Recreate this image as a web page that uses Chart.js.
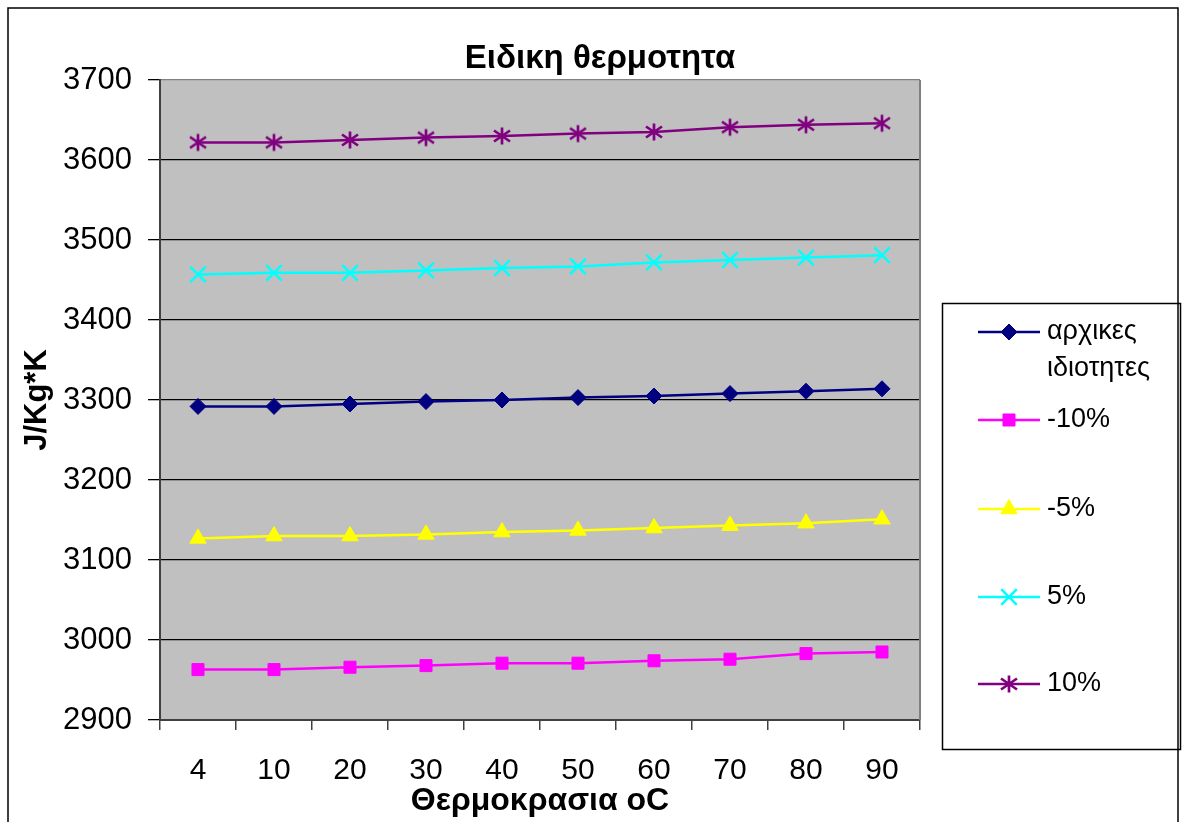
<!DOCTYPE html>
<html>
<head>
<meta charset="utf-8">
<title>Ειδικη θερμοτητα</title>
<script src="https://cdn.jsdelivr.net/npm/chart.js@4/dist/chart.umd.min.js"></script>
<style>
  html, body { margin: 0; padding: 0; background: #ffffff; }
  #wrap { width: 1182px; height: 822px; position: relative; }
</style>
</head>
<body>
<div id="wrap"><canvas id="c" width="1182" height="822"></canvas></div>
<script>
// Temperatures (oC) on the category axis
const categories = ['4', '10', '20', '30', '40', '50', '60', '70', '80', '90'];

// Specific heat, J/Kg*K, for each property set
const baseValues   = [3292, 3292, 3295, 3298, 3300, 3303, 3305, 3308, 3311, 3314];
const minus10      = [2963, 2963, 2966, 2968, 2971, 2971, 2974, 2976, 2983, 2985];
const minus5       = [3127, 3130, 3130, 3132, 3135, 3137, 3140, 3143, 3146, 3151];
const plus5        = [3457, 3459, 3459, 3462, 3465, 3467, 3472, 3475, 3478, 3481];
const plus10       = [3622, 3622, 3625, 3628, 3630, 3633, 3635, 3641, 3644, 3646];

// Series names (the first one is written on two lines in the legend)
const seriesNames = [['αρχικες', 'ιδιοτητες'], ['-10%'], ['-5%'], ['5%'], ['10%']];

// Value axis ticks
const yTicks = [2900, 3000, 3100, 3200, 3300, 3400, 3500, 3600, 3700];

const FONT = "'Liberation Sans', Arial, sans-serif";

// Asterisk marker: a vertical stroke crossed by an X
function asteriskMarker(color) {
  const c = document.createElement('canvas');
  c.width = 20; c.height = 20;
  const g = c.getContext('2d');
  g.strokeStyle = color;
  g.lineWidth = 2.7;
  g.beginPath();
  g.moveTo(10, 1.5); g.lineTo(10, 18.5);
  g.moveTo(2, 4.5); g.lineTo(18, 15.5);
  g.moveTo(2, 15.5); g.lineTo(18, 4.5);
  g.stroke();
  return c;
}

const styles = [
  { color: '#000080', pointStyle: 'rectRot', radius: 8, borderWidth: 1 },
  { color: '#FF00FF', pointStyle: 'rect', radius: 8.5, borderWidth: 1 },
  { color: '#FFFF00', pointStyle: 'triangle', radius: 9.5, borderWidth: 1 },
  { color: '#00FFFF', pointStyle: 'crossRot', radius: 11, borderWidth: 2.5 },
  { color: '#800080', pointStyle: asteriskMarker('#800080'), radius: 10, borderWidth: 2.5 }
];
const seriesData = [baseValues, minus10, minus5, plus5, plus10];

const datasets = seriesData.map((vals, i) => ({
  label: seriesNames[i].join(' '),
  data: vals,
  yAxisID: 'y',
  borderColor: styles[i].color,
  backgroundColor: styles[i].color,
  borderWidth: 2.5,
  pointStyle: styles[i].pointStyle,
  pointRadius: styles[i].radius,
  pointHoverRadius: styles[i].radius,
  pointBorderWidth: styles[i].borderWidth,
  pointBackgroundColor: styles[i].color,
  pointBorderColor: styles[i].color,
  tension: 0,
  fill: false
}));

// Grey plot background, frame, boxed legend and outer border
const framePlugin = {
  id: 'frame',
  beforeDraw(chart) {
    const { ctx, chartArea: a } = chart;
    ctx.save();
    ctx.fillStyle = '#ffffff';
    ctx.fillRect(0, 0, chart.width, chart.height);
    ctx.fillStyle = '#C0C0C0';
    ctx.fillRect(a.left, a.top, a.right - a.left, a.bottom - a.top);
    ctx.restore();
  },
  afterDraw(chart) {
    const { ctx, chartArea: a } = chart;
    ctx.save();
    // right edge of the plot frame
    ctx.strokeStyle = '#808080';
    ctx.lineWidth = 2;
    ctx.beginPath();
    ctx.moveTo(a.right, a.top);
    ctx.lineTo(a.right, a.bottom);
    ctx.stroke();

    // legend box
    const lx = 942, ly = 303, lw = 238, lh = 446;
    ctx.fillStyle = '#ffffff';
    ctx.fillRect(lx, ly, lw, lh);
    ctx.strokeStyle = '#000000';
    ctx.lineWidth = 1.5;
    ctx.strokeRect(lx + 0.5, ly + 0.5, lw, lh);

    const rows = [332, 420, 509, 597, 684];
    ctx.font = '27px ' + FONT;
    ctx.textBaseline = 'middle';
    ctx.textAlign = 'left';
    chart.data.datasets.forEach((ds, i) => {
      const y = rows[i];
      ctx.strokeStyle = ds.borderColor;
      ctx.lineWidth = 2.5;
      ctx.beginPath();
      ctx.moveTo(978, y);
      ctx.lineTo(1040, y);
      ctx.stroke();
      ctx.fillStyle = ds.pointBackgroundColor;
      ctx.strokeStyle = ds.pointBorderColor;
      ctx.lineWidth = ds.pointBorderWidth;
      Chart.helpers.drawPoint(ctx, {
        pointStyle: ds.pointStyle,
        radius: ds.pointRadius,
        rotation: 0,
        borderWidth: ds.pointBorderWidth
      }, 1009, y);
      ctx.fillStyle = '#000000';
      seriesNames[i].forEach((line, k) => {
        ctx.fillText(line, 1047, y + k * 37);
      });
    });

    // outer chart border
    ctx.strokeStyle = '#000000';
    ctx.lineWidth = 1.5;
    ctx.strokeRect(8, 8, 1170, 830);
    ctx.restore();
  }
};

new Chart(document.getElementById('c'), {
  type: 'line',
  data: { labels: categories, datasets },
  options: {
    responsive: false,
    animation: false,
    events: [],
    layout: { padding: { left: 18, top: 30, right: 0, bottom: 0 } },
    plugins: {
      legend: { display: false },
      tooltip: { enabled: false },
      title: {
        display: true,
        text: 'Ειδικη θερμοτητα',
        color: '#000000',
        font: { family: FONT, size: 33, weight: 'bold', lineHeight: 1.1 },
        padding: { top: 11, bottom: 2.7 }
      }
    },
    scales: {
      x: {
        type: 'category',
        offset: true,
        grid: {
          offset: true,
          drawOnChartArea: false,
          drawTicks: true,
          tickLength: 10,
          color: '#404040',
          tickColor: '#404040',
          lineWidth: 1.5
        },
        border: { display: true, color: '#404040', width: 2 },
        ticks: {
          color: '#000000',
          font: { family: FONT, size: 30 },
          padding: 23,
          maxRotation: 0,
          autoSkip: false
        },
        title: {
          display: true,
          text: 'Θερμοκρασια oC',
          color: '#000000',
          font: { family: FONT, size: 32, weight: 'bold', lineHeight: 1.1 },
          padding: { top: 0, bottom: 3 }
        },
        afterFit(scale) { scale.height = 102; }
      },
      y: {
        type: 'linear',
        position: 'left',
        min: yTicks[0],
        max: yTicks[yTicks.length - 1],
        afterBuildTicks(scale) { scale.ticks = yTicks.map(v => ({ value: v })); },
        grid: {
          drawTicks: true,
          tickLength: 12,
          color: ctx => (ctx.tick && ctx.tick.value === yTicks[yTicks.length - 1]) ? '#808080' : '#000000',
          tickColor: '#000000',
          lineWidth: 1.3
        },
        border: { display: true, color: '#404040', width: 2 },
        ticks: {
          color: '#000000',
          font: { family: FONT, size: 31 },
          padding: 16,
          callback: v => String(v)
        },
        title: {
          display: true,
          text: 'J/Kg*K',
          color: '#000000',
          font: { family: FONT, size: 31, weight: 'bold', lineHeight: 1.1 },
          padding: { top: 2, bottom: 0 }
        },
        afterFit(scale) { scale.width = 142; }
      },
      // empty band on the right that holds the legend
      legendBand: {
        type: 'linear',
        position: 'right',
        display: true,
        grid: { display: false, drawTicks: false },
        border: { display: false },
        ticks: { display: false },
        afterFit(scale) { scale.width = 262; }
      }
    }
  },
  plugins: [framePlugin]
});
</script>
</body>
</html>
